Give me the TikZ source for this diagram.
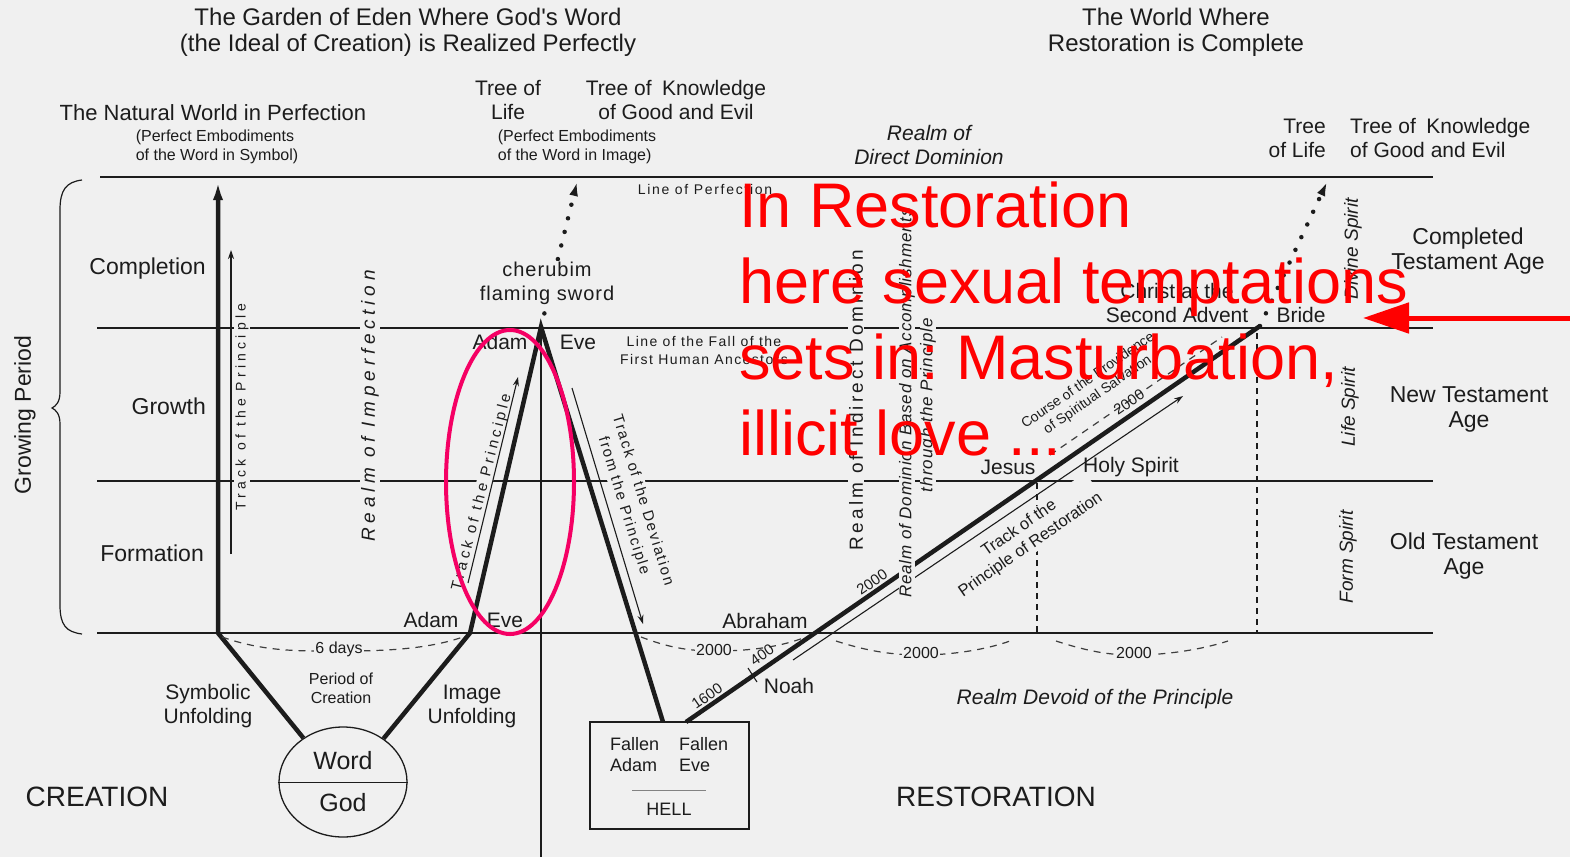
\documentclass[tikz,border=0pt]{standalone}
\usepackage{fontspec}
\setmainfont{Liberation Sans}
\usetikzlibrary{arrows.meta,shapes.geometric}
\definecolor{bgc}{RGB}{240,240,240}
\definecolor{ink}{RGB}{28,28,28}
\definecolor{pinkc}{RGB}{245,0,100}
\definecolor{redc}{RGB}{255,0,0}
\newcommand{\fsz}[2]{\fontsize{#1}{#2}\selectfont}
\newcommand{\lsp}[1]{\addfontfeature{LetterSpace=#1}}
\frenchspacing
\begin{document}
\frenchspacing
\begin{tikzpicture}[x=1pt,y=-1pt,
  lbl/.style={text=ink, inner sep=1pt, align=center, font=\fsz{21}{24}},
  mask/.style={fill=bgc},
  hline/.style={draw=ink, line width=2pt},
  track/.style={draw=ink, line width=4.5pt},
  thinarr/.style={draw=ink, line width=1.1pt, -{Stealth[length=9pt,width=6pt]}},
  dashline/.style={draw=ink!85, line width=1.2pt, dash pattern=on 7pt off 6pt},
  vdash/.style={draw=ink, line width=1.2pt, dash pattern=on 6pt off 5pt},
  dotarr/.style={draw=ink, line width=4.5pt, line cap=round, dash pattern=on 0pt off 14pt, -{Latex[length=14pt,width=9pt]}},
]
\fill[bgc] (0,0) rectangle (1570,857);
\useasboundingbox (0,0) rectangle (1570,857);

% ---------- horizontal levels
\coordinate (pL) at (100,177); \coordinate (pR) at (1433,177);
\coordinate (fL) at (97,328);  \coordinate (fR) at (1433,328);
\coordinate (gL) at (97,481);  \coordinate (gR) at (1433,481);
\coordinate (bL) at (97,633);  \coordinate (bR) at (1433,633);
\draw[hline, line width=2.6pt] (pL) -- (pR);
\draw[hline] (fL) -- (fR);
\draw[hline] (gL) -- (gR);
\draw[hline] (bL) -- (bR);

% ---------- brace
\draw[ink, line width=1.2pt] (82,180) .. controls (66,182) and (60,190) .. (60,210) -- (60,392)
  .. controls (60,402) and (56,406) .. (52,408) .. controls (56,410) and (60,414) .. (60,424)
  -- (60,605) .. controls (60,625) and (66,632) .. (82,634);
\node[lbl, font=\fsz{23}{26}, rotate=90] (growing) at (25,415) {Growing Period};

% ---------- Word / God
\node[draw=ink, line width=1.3pt, ellipse, minimum width=128pt, minimum height=110pt, inner sep=0] (wg) at (343,782) {};
\draw[ink, line width=1pt] (wg.west) -- (wg.east);
\node[lbl, font=\fsz{25}{28}] (word) at (343,761) {Word};
\node[lbl, font=\fsz{25}{28}] (god) at (343,803) {God};

% ---------- creation tracks
\coordinate (symfoot) at (218,633); \coordinate (symtop) at (218,180);
\draw[track, line join=round, -{Latex[length=20pt,width=10pt]}] (wg.132) -- (symfoot) -- (symtop);
\coordinate (tpb) at (231,554); \coordinate (tpt) at (231,250);
\draw[thinarr] (tpb) -- (tpt);

\coordinate (imgfoot) at (470,633); \coordinate (apex) at (541,327);
\node[draw=ink, line width=1.3pt, minimum width=159pt, minimum height=107pt, inner sep=0] (hell) at (669.5,775.5) {};
\coordinate (fallfoot) at (663,722);
\coordinate (axisbot) at (541,857);
\draw[ink, line width=1.5pt] (apex) -- (axisbot);
\draw[track, line join=miter] (wg.47) -- (imgfoot) -- (apex) -- (fallfoot);
\coordinate (edentop) at (577,182);
\draw[dotarr] (apex) -- (edentop);
\coordinate (a1) at (468,583); \coordinate (a2) at (518,377);
\coordinate (d1) at (572,388); \coordinate (d2) at (643,624);

% ---------- restoration track
\coordinate (resstart) at (686,722); \coordinate (resend) at (1260,326); \coordinate (restop) at (1327,182);
\draw[track] (resstart) -- (resend);
\draw[dotarr] (resend) -- (restop);
\coordinate (r1) at (793,660); \coordinate (r2) at (1183,396);
\draw[thinarr] (r1) -- (r2);
\coordinate (tk1) at (748,668); \coordinate (tk2) at (757,682);
\draw[ink, line width=1.1pt] (tk1) -- (tk2);
\coordinate (c1) at (1050,455); \coordinate (c2) at (1222,337);
\draw[dashline] (c1) -- (c2);
\coordinate (v1t) at (1037,483); \coordinate (v1b) at (1037,633);
\coordinate (v2t) at (1257,333); \coordinate (v2b) at (1257,633);
\draw[vdash] (v1t) -- (v1b);
\draw[vdash] (v2t) -- (v2b);

% ---------- dashed period arcs
\draw[dashline] (222,637) .. controls (265,652) and (300,651) .. (339,651) .. controls (380,651) and (425,650) .. (463,637);
\draw[dashline] (641,637) .. controls (670,648) and (690,651) .. (715,651) .. controls (750,651) and (780,647) .. (806,637);
\draw[dashline] (836,641) .. controls (870,652) and (895,655) .. (921,655) .. controls (950,655) and (985,650) .. (1010,641);
\draw[dashline] (1056,641) .. controls (1090,652) and (1110,655) .. (1134,655) .. controls (1165,655) and (1200,650) .. (1228,641);
\node[lbl, mask, font=\fsz{16}{18}] (sixdays) at (339,649) {6 days};
\node[lbl, mask, font=\fsz{16}{18}] (p2000a) at (714,650) {2000};
\node[lbl, mask, font=\fsz{16}{18}] (p2000b) at (921,653) {2000};
\node[lbl, mask, font=\fsz{16}{18}] (p2000c) at (1134,653) {2000};

% ---------- masked rotated texts
\node[lbl, mask, rotate=90, font=\fsz{14}{16}\lsp{30}] (tpl) at (242,407) {Track of the Principle};
\node[lbl, mask, rotate=90, font=\fsz{19}{22}\itshape\lsp{25}] (imperf) at (370,406) {Realm of Imperfection};
\node[lbl, mask, rotate=75.6, font=\fsz{15}{18}\lsp{23}] (tpadam) at (482,492) {Track of the Principle};
\node[lbl, mask, rotate=-72.8, font=\fsz{15}{20}\lsp{12}] (tdev) at (633,503) {Track of the Deviation\\from the Principle};
\node[lbl, mask, rotate=90, font=\fsz{19}{22}\lsp{17}] (indirect) at (856,400) {Realm of Indirect Dominion};
\node[lbl, mask, rotate=90, inner sep=0.5pt, font=\fsz{17}{20}\itshape\lsp{5}] (based) at (907,403) {Realm of Dominion Based on Accomplishments};
\node[lbl, mask, rotate=90, inner sep=0.5pt, font=\fsz{17}{20}\itshape\lsp{6}] (through) at (928,405) {through the Principle};
\node[lbl, mask, rotate=34.7, font=\fsz{16.5}{20}] (tpres) at (1025,537) {Track of the\\Principle of Restoration};
\node[lbl, mask, rotate=34.7, font=\fsz{14}{17}] (course) at (1093,388) {Course of the Providence\\of Spiritual Salvation};
\node[lbl, mask, font=\fsz{20}{24}\lsp{5}] (cherub) at (547,283) {cherubim\\flaming sword};

\draw[thinarr] (a1) -- (a2);
\draw[thinarr] (d1) -- (d2);

% ---------- number labels on restoration track
\node[lbl, rotate=34.7, font=\fsz{15}{17}] (n1600) at (707,696) {1600};
\node[lbl, rotate=34.7, font=\fsz{15}{17}] (n400) at (762,655) {400};
\node[lbl, rotate=34.7, font=\fsz{15}{17}] (n2000a) at (872,582) {2000};
\node[lbl, rotate=34.7, font=\fsz{15}{17}] (n2000b) at (1129,402) {2000};

% ---------- top texts
\node[lbl, font=\fsz{24}{26}] (title1) at (408,32) {The Garden of Eden Where God\textquotesingle s Word\\(the Ideal of Creation) is Realized Perfectly};
\node[lbl, font=\fsz{24}{26}] (title2) at (1176,32) {The World Where\\Restoration is Complete};
\node[lbl, font=\fsz{22}{24}] (natural) at (213,113) {The Natural World in Perfection};
\node[lbl, align=left, font=\fsz{16}{19}] (embsym) at (217,147) {(Perfect Embodiments\\of the Word in Symbol)};
\node[lbl] (treelife1) at (508,100) {Tree of\\Life};
\node[lbl] (treeknow1) at (676,100) {Tree of\enspace Knowledge\\of Good and Evil};
\node[lbl, align=left, font=\fsz{16}{19}] (embimg) at (577,147) {(Perfect Embodiments\\of the Word in Image)};
\node[lbl, font=\fsz{21}{24}\itshape] (direct) at (929,145) {Realm of\\Direct Dominion};
\node[lbl, anchor=east, align=right] (treelife2) at (1327,138) {Tree\\of Life};
\node[lbl, anchor=west, align=left] (treeknow2) at (1349,138) {Tree of\enspace Knowledge\\of Good and Evil};
\node[lbl, font=\fsz{14}{17}\lsp{12}] (lperf) at (705,189) {Line of Perfection};
\node[lbl, font=\fsz{14}{18}\lsp{10}] (lfall) at (704,350) {Line of the Fall of the\\First Human Ancestors};

% ---------- level labels
\node[lbl, anchor=east, font=\fsz{23}{26}] (compl) at (207,269) {Completion};
\node[lbl, anchor=east, font=\fsz{23}{26}] (growth) at (207,406) {Growth};
\node[lbl, anchor=east, font=\fsz{23}{26}] (form) at (205,553) {Formation};
\node[lbl, font=\fsz{23}{25}] (cta) at (1468,251) {Completed\\Testament Age};
\node[lbl, font=\fsz{23}{25}] (nta) at (1469,409) {New Testament\\Age};
\node[lbl, font=\fsz{23}{25}] (ota) at (1464,556) {Old Testament\\Age};
\node[lbl, rotate=90, font=\fsz{19}{22}\itshape] (divine) at (1353,249) {Divine Spirit};
\node[lbl, rotate=90, font=\fsz{19}{22}\itshape] (life) at (1350,407) {Life Spirit};
\node[lbl, rotate=90, font=\fsz{19}{22}\itshape] (formsp) at (1348,557) {Form Spirit};

% ---------- figure labels
\node[lbl] (adamU) at (500,342) {Adam};
\node[lbl] (eveU) at (578,342) {Eve};
\node[lbl] (adamL) at (431,620) {Adam};
\node[lbl] (eveL) at (505,620) {Eve};
\node[lbl] (abraham) at (765,621) {Abraham};
\node[lbl] (noah) at (789,686) {Noah};
\node[lbl] (jesus) at (1008,467) {Jesus};
\node[lbl] (holy) at (1131,467) {Holy Spirit};
\node[lbl] (christ) at (1177,303) {Christ at the\\Second Advent};
\node[lbl] (bride) at (1301,315) {Bride};

% ---------- bottom texts
\node[lbl] (symb) at (208,706) {Symbolic\\Unfolding};
\node[lbl, font=\fsz{16}{19}] (period) at (341,688) {Period of\\Creation};
\node[lbl] (image) at (472,706) {Image\\Unfolding};
\node[lbl, align=left, anchor=west, font=\fsz{18}{21}] (fadam) at (609,755) {Fallen\\Adam};
\node[lbl, align=left, anchor=west, font=\fsz{18}{21}] (feve) at (678,755) {Fallen\\Eve};
\coordinate (hl1) at (632,790); \coordinate (hl2) at (706,790);
\draw[ink!55, line width=0.8pt] (hl1) -- (hl2);
\node[lbl, font=\fsz{18}{21}] (hellt) at (669,809) {HELL};
\node[lbl, font=\fsz{21}{24}\itshape] (devoid) at (1095,699) {Realm Devoid of the Principle};
\node[lbl, font=\fsz{28}{30}] (creation) at (97,797) {CREATION};
\node[lbl, font=\fsz{28}{30}] (restoration) at (996,797) {RESTORATION};

% ---------- overlay annotations
\draw[pinkc, line width=4pt] (510,482) ellipse [x radius=64pt, y radius=152pt];
\node[anchor=base west, text=redc, font=\fsz{63}{76}, inner sep=0] (red1) at (739,227) {In Restoration};
\node[anchor=base west, text=redc, font=\fsz{63}{76}, inner sep=0] (red2) at (739,303) {here sexual temptations};
\node[anchor=base west, text=redc, font=\fsz{63}{76}, inner sep=0] (red3) at (739,379) {sets in: Masturbation,};
\node[anchor=base west, text=redc, font=\fsz{63}{76}, inner sep=0] (red4) at (739,455) {illicit love ...};
\coordinate (rtail) at (1570,318); \coordinate (rhead) at (1363,318);
\draw[redc, line width=5pt, -{Triangle[length=46pt,width=30pt]}] (rtail) -- (rhead);
\end{tikzpicture}
\end{document}
